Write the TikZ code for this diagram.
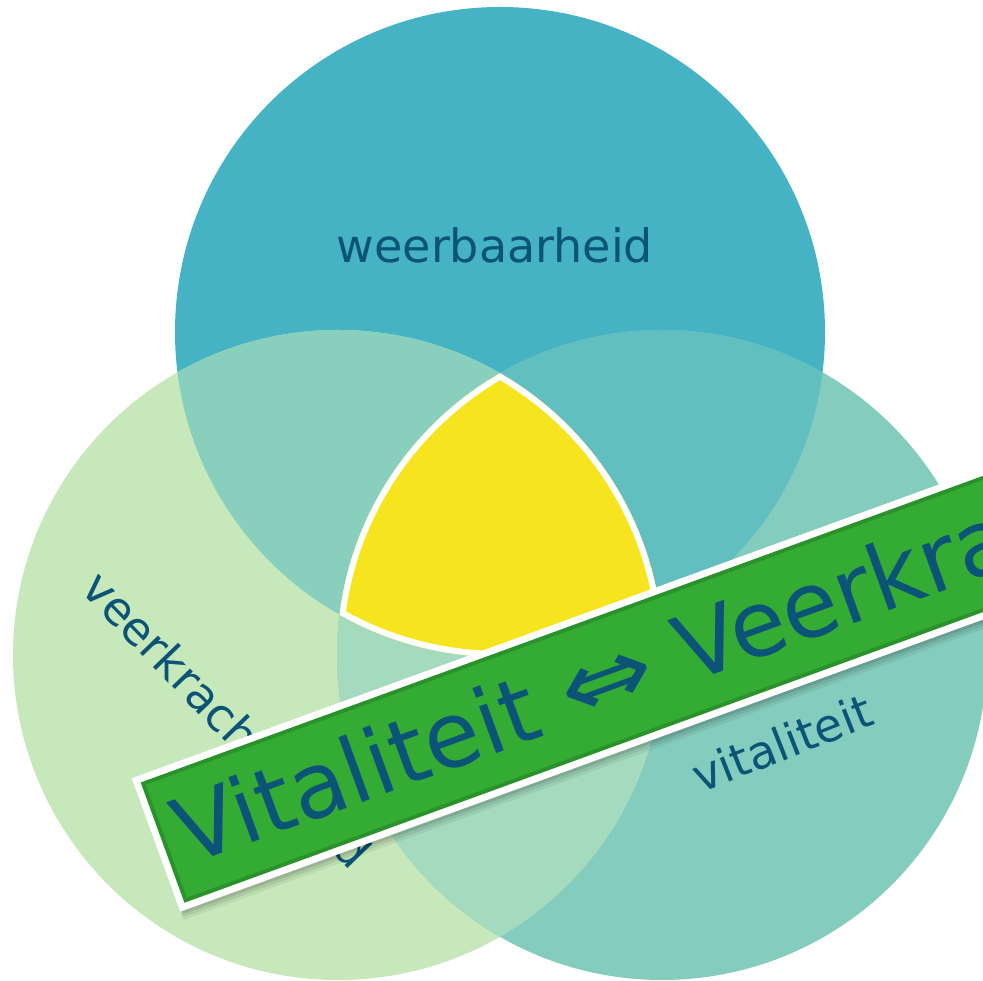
\documentclass[tikz,border=0pt]{standalone}
\usepackage{fontspec}
\setmainfont{DejaVu Sans}
\begin{document}
\begin{tikzpicture}[x=1pt,y=1pt]
\definecolor{ctop}{HTML}{45B3C3}
\definecolor{cleft}{HTML}{C7E8BA}
\definecolor{cright}{HTML}{84CCBD}
\definecolor{ctl}{HTML}{88CFBE}
\definecolor{ctr}{HTML}{62BFBF}
\definecolor{clr}{HTML}{A4DBBF}
\definecolor{cyel}{HTML}{F6E51E}
\definecolor{ctext}{HTML}{0B5478}
\definecolor{gmain}{HTML}{34AC34}
\definecolor{gdark}{HTML}{29922A}
\tikzset{
  lbl/.style={text=ctext, font=\fontsize{46}{50}\selectfont, inner sep=0pt},
  bannertext/.style={text=ctext, font=\fontsize{91}{96}\selectfont, inner sep=0pt},
}
\useasboundingbox (0,0) rectangle (983,981);
\clip (0,0) rectangle (983,981);
\fill[white] (0,0) rectangle (983,981);
\coordinate (T) at (500,649);
\coordinate (L) at (338,326);
\coordinate (R) at (662,326);
\def\rr{325}
% circles
\fill[ctop] (T) circle (\rr);
\fill[cleft] (L) circle (\rr);
\fill[cright] (R) circle (\rr);
\begin{scope}\clip (T) circle (\rr); \fill[ctl] (L) circle (\rr); \end{scope}
\begin{scope}\clip (T) circle (\rr); \fill[ctr] (R) circle (\rr); \end{scope}
\begin{scope}\clip (L) circle (\rr); \fill[clr] (R) circle (\rr); \end{scope}
\begin{scope}
  \clip (T) circle (\rr);
  \clip (L) circle (\rr);
  \clip (R) circle (\rr);
  \fill[cyel] (R) circle (\rr);
  \draw[white, line width=12] (T) circle (\rr) (L) circle (\rr) (R) circle (\rr);
\end{scope}
% labels
\node[lbl, anchor=base] (wb) at (495,718) {weerbaarheid};
\node[lbl, anchor=base, rotate=-46] (vk) at (215,250) {veerkrachtigheid};
\node[lbl, anchor=base, rotate=21.5] (vt) at (788,222) {vitaliteit};
% banner
\begin{scope}[shift={(156,136)}, rotate=20]
  \fill[black, opacity=0.06] (0,-80) rectangle (1200,66);
  \fill[black, opacity=0.08] (1,-77) rectangle (1200,68);
  \fill[black, opacity=0.10] (2,-74) rectangle (1200,70);
  \fill[white] (0,-71) rectangle (1200,71);
  \fill[gdark] (7,-64) rectangle (1200,64);
  \fill[gmain] (11,-60) rectangle (1200,60);
  \node[bannertext, anchor=base west, rotate=20] (vv) at (23,-30.6) {Vitaliteit \scalebox{1.25}[1.05]{⇔} Veerkra};
\end{scope}
\end{tikzpicture}
\end{document}
